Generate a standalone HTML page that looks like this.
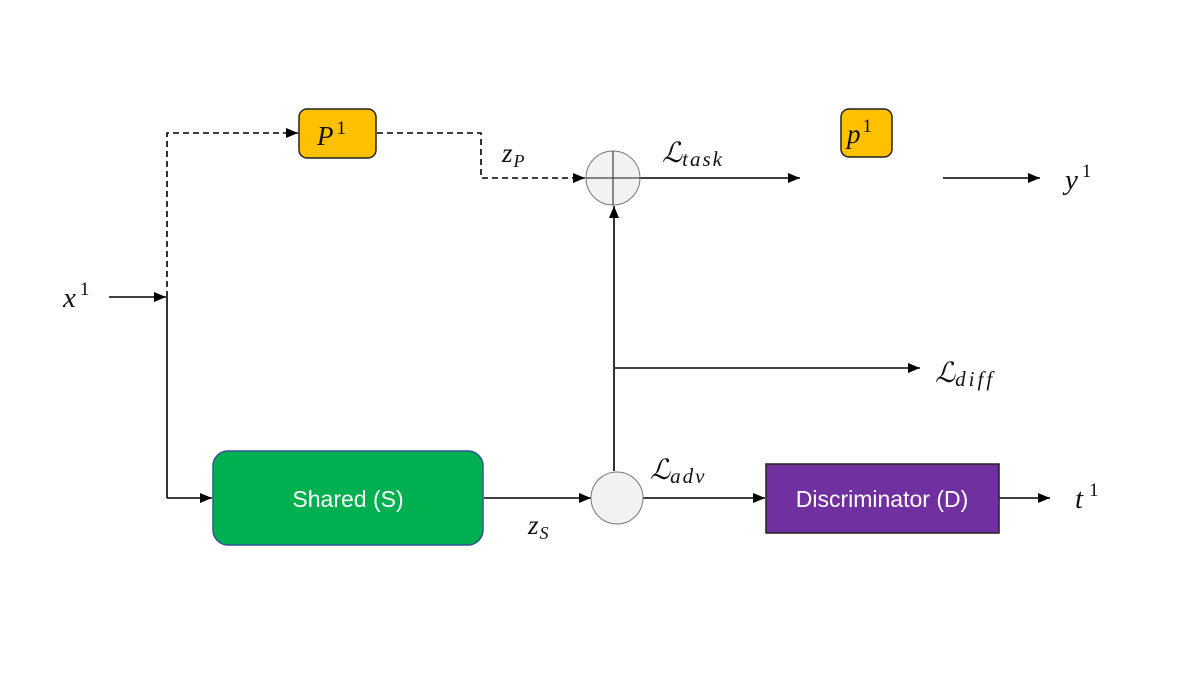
<!DOCTYPE html>
<html><head><meta charset="utf-8"><style>
html,body{margin:0;padding:0;background:#fff;}
svg{display:block}
.m{font-family:"Liberation Serif","DejaVu Serif",serif;font-style:italic;fill:#111;}
.t{font-family:"Liberation Sans","DejaVu Sans",sans-serif;fill:#fff;}
</style></head><body>
<svg width="1200" height="675" viewBox="0 0 1200 675" xmlns="http://www.w3.org/2000/svg">
<defs>
<marker id="a" markerWidth="12" markerHeight="10" refX="12" refY="5" orient="auto" markerUnits="userSpaceOnUse">
<path d="M0,0 L12,5 L0,10 Z" fill="#000"/></marker>
</defs>
<g stroke="#000" stroke-width="1.6" fill="none">
<line x1="109" y1="297" x2="166" y2="297" marker-end="url(#a)"/>
<line x1="167" y1="297" x2="167" y2="498"/>
<line x1="167" y1="498" x2="212" y2="498" marker-end="url(#a)"/>
<polyline points="167,297 167,133 298,133" stroke-dasharray="6,4" marker-end="url(#a)"/>
<polyline points="377,133 481,133 481,178 585,178" stroke-dasharray="6,4" marker-end="url(#a)"/>
<line x1="640" y1="178" x2="800" y2="178" marker-end="url(#a)"/>
<line x1="943" y1="178" x2="1040" y2="178" marker-end="url(#a)"/>
<line x1="614" y1="471" x2="614" y2="206" marker-end="url(#a)"/>
<line x1="615" y1="368" x2="920" y2="368" marker-end="url(#a)"/>
<line x1="484" y1="498" x2="591" y2="498" marker-end="url(#a)"/>
<line x1="643" y1="498" x2="765" y2="498" marker-end="url(#a)"/>
<line x1="999" y1="498" x2="1050" y2="498" marker-end="url(#a)"/>
</g>
<circle cx="613" cy="178" r="27" fill="#f2f2f2" stroke="#777" stroke-width="1"/>
<line x1="586" y1="178" x2="640" y2="178" stroke="#444" stroke-width="1.2"/>
<line x1="613" y1="151" x2="613" y2="205" stroke="#444" stroke-width="1.2"/>
<circle cx="617" cy="498" r="26" fill="#f2f2f2" stroke="#777" stroke-width="1"/>
<rect x="299" y="109" width="77" height="49" rx="8" fill="#FFC000" stroke="#222" stroke-width="1.5"/>
<text x="317" y="145" class="m" font-size="27">P<tspan font-size="19" dy="-11" dx="3" font-style="normal">1</tspan></text>
<rect x="841" y="109" width="51" height="48" rx="8" fill="#FFC000" stroke="#222" stroke-width="1.5"/>
<text x="847" y="143" class="m" font-size="27">p<tspan font-size="19" dy="-11" dx="2" font-style="normal">1</tspan></text>
<rect x="213" y="451" width="270" height="94" rx="15" fill="#00B050" stroke="#2F5597" stroke-width="1.5"/>
<text x="348" y="507" class="t" font-size="23" text-anchor="middle">Shared (S)</text>
<rect x="766" y="464" width="233" height="69" fill="#7030A0" stroke="#222" stroke-width="1.5"/>
<text x="882" y="507" class="t" font-size="23" text-anchor="middle">Discriminator (D)</text>
<text x="63" y="307" class="m" font-size="29">x<tspan font-size="19" dy="-12" dx="4" font-style="normal">1</tspan></text>
<text x="1065" y="189" class="m" font-size="29">y<tspan font-size="19" dy="-12" dx="4" font-style="normal">1</tspan></text>
<text x="1075" y="508" class="m" font-size="29">t<tspan font-size="19" dy="-12" dx="6" font-style="normal">1</tspan></text>
<text x="502" y="162" class="m" font-size="27">z<tspan font-size="18" dy="5" dx="1">P</tspan></text>
<text x="528" y="534" class="m" font-size="27">z<tspan font-size="18" dy="5" dx="1">S</tspan></text>
<text x="662" y="162" class="m" font-size="28">ℒ<tspan font-size="21" dy="4" letter-spacing="2">task</tspan></text>
<text x="935" y="382" class="m" font-size="28">ℒ<tspan font-size="21" dy="4" letter-spacing="3">diff</tspan></text>
<text x="650" y="479" class="m" font-size="28">ℒ<tspan font-size="21" dy="4" letter-spacing="2">adv</tspan></text>
</svg>
</body></html>
